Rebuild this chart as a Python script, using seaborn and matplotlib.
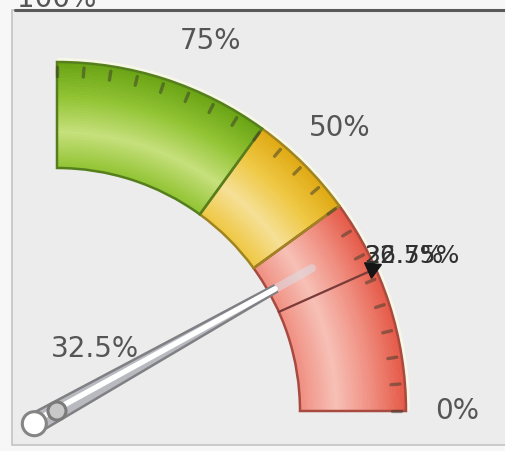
import numpy as np
import matplotlib
matplotlib.use("Agg")
import matplotlib.pyplot as plt
from matplotlib.patches import Wedge, Polygon, Circle, Rectangle
import seaborn as sns

# gauge data (percent scale, 0% at right, 100% at top)
band_starts = [0, 40, 60]
band_ends = [40, 60, 100]
band_outer = ["#e55a48", "#e0aa14", "#6aa414"]
band_mid = ["#f09082", "#efc844", "#92c434"]
band_inner = ["#f7c0b6", "#f6e096", "#c6e07c"]
band_edge = ["#a84a40", "#a08420", "#557f1c"]
scale_values = [0, 50, 75, 100]
scale_labels = ["0%", "50%", "75%", "100%"]
needle_value = 32.5
needle_label = "32.5%"
marker_value = 26.75
marker_labels = ["32.5%", "26.75%"]

sns.set_style("white")
plt.rcParams["font.family"] = ["DejaVu Sans"]

R_OUT, R_IN = 349, 243


def ang(v):
    return np.radians(v * 0.9)


fig = plt.figure(figsize=(5.06, 4.51), dpi=100)
fig.patch.set_facecolor("#f7f7f7")
ax = fig.add_axes([0, 0, 1, 1])
ax.set_xlim(-57, 449)
ax.set_ylim(-40, 411)
ax.axis("off")

# panel
ax.add_patch(Rectangle((-45, -34), 494, 435, facecolor="#ececec", edgecolor="#c4c4c4", lw=1.2, zorder=0))
ax.plot([-42, 449], [401, 401], color="#5a5a5a", lw=2.2, zorder=6)

# bands with radial shading
n = 40
dr = (R_OUT - R_IN) / n
for s, e, co, cm, ci, ce in zip(band_starts, band_ends, band_outer, band_mid, band_inner, band_edge):
    cols = sns.blend_palette([co, cm, ci, cm], n)
    for i, c in enumerate(cols):
        r = R_OUT - i * dr
        ax.add_patch(Wedge((0, 0), r, s * 0.9, e * 0.9, width=dr + 0.6, facecolor=c, lw=0, zorder=2))
    ax.add_patch(Wedge((0, 0), R_OUT, s * 0.9, e * 0.9, width=R_OUT - R_IN, fill=False, edgecolor=ce, lw=1.8, zorder=3))

# soft glow on outer rim
ax.add_patch(Wedge((0, 0), R_OUT + 4, 0, 90, width=4, facecolor="#fbfbe6", lw=0, alpha=0.8, zorder=1))

# ticks every 5%
for v in np.arange(0, 101, 5):
    a = ang(v)
    ax.plot([(R_OUT - 14) * np.cos(a), (R_OUT - 5) * np.cos(a)],
            [(R_OUT - 14) * np.sin(a), (R_OUT - 5) * np.sin(a)],
            color="#3a3a2a", lw=2.4, alpha=0.5, solid_capstyle="round", zorder=4)

# scale labels (100% sits on the top frame and is cut off)
for v, lab in zip(scale_values, scale_labels):
    a = ang(v)
    r = 412 if v == 100 else 400
    ax.text(r * np.cos(a), r * np.sin(a), lab, ha="center", va="center",
            fontsize=20, color="#555555", zorder=5)

# marker line and triangle
a = ang(marker_value)
ax.plot([R_IN * np.cos(a), R_OUT * np.cos(a)], [R_IN * np.sin(a), R_OUT * np.sin(a)],
        color="#7a3a38", lw=1.6, zorder=4)
ax.plot([(R_OUT - 4) * np.cos(a)], [(R_OUT - 4) * np.sin(a) + 2], marker=(3, 0, 0.9 * marker_value + 30),
        ms=14, color="#151515", zorder=6)
for lab in marker_labels:
    ax.text(R_OUT - 42, 155, lab, ha="left", va="center", fontsize=18, color="#303030", zorder=6)

# needle
a = ang(needle_value)
u = np.array([np.cos(a), np.sin(a)])
nv = np.array([-np.sin(a), np.cos(a)])
tail, tip = -26 * u, 250 * u
ax.plot([tip[0], 292 * u[0]], [tip[1], 292 * u[1]], color="#dcdce6", lw=6, alpha=0.55, zorder=4)
ax.add_patch(Polygon([tail + 10 * nv, tip + 3.5 * nv, tip - 3.5 * nv, tail - 10 * nv],
                     closed=True, facecolor="#b8bac0", edgecolor="#808084", lw=1.8, zorder=7))
ax.plot([tail[0] + 12 * u[0] + 2 * nv[0], tip[0]], [tail[1] + 12 * u[1] + 2 * nv[1], tip[1]], color="white",
        lw=4, solid_capstyle="round", zorder=8)
ax.add_patch(Circle((tail[0], tail[1]), 12, facecolor="white", edgecolor="#858585", lw=2.2, zorder=9))
ax.add_patch(Circle((0, 0), 9, facecolor="#c8c8c8", edgecolor="#7a7a7a", lw=2.2, zorder=9))

ax.text(75 * u[0] - 27, 75 * u[1] + 25, needle_label, ha="center", va="center",
        fontsize=20, color="#555555", zorder=5)

fig.savefig("out.png", dpi=100, facecolor=fig.get_facecolor())
